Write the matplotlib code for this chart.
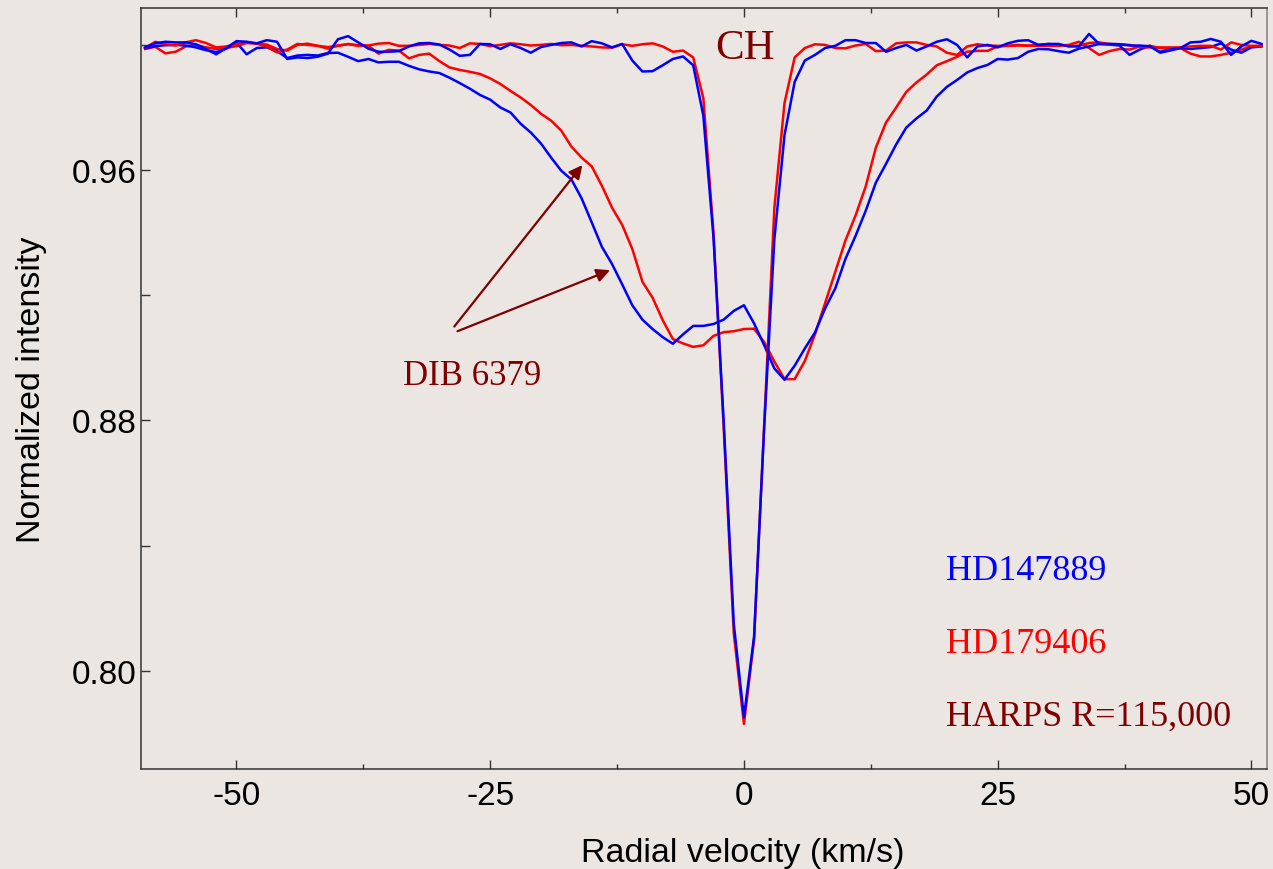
import numpy as np
import matplotlib
matplotlib.use('Agg')
import matplotlib.pyplot as plt
from matplotlib.ticker import MultipleLocator, FormatStrFormatter

plt.rcParams['font.family'] = ['Liberation Sans', 'DejaVu Sans']
plt.rcParams['axes.unicode_minus'] = False

# Radial velocity grid (km/s), 1 km/s sampling
velocity = np.arange(-59, 52, 1)

# HD147889 - DIB 6379 (broad) and CH (narrow)
hd147889_dib = [
    0.9989, 0.9996, 0.9999, 1.0000, 0.9998, 0.9992, 0.9983, 0.9977, 0.9988, 1.0008,
    0.9970, 0.9990, 0.9992, 0.9980, 0.9958, 0.9966, 0.9968, 0.9966, 0.9974, 0.9975,
    0.9962, 0.9948, 0.9955, 0.9944, 0.9946, 0.9946, 0.9933, 0.9922, 0.9915, 0.9910,
    0.9895, 0.9878, 0.9860, 0.9840, 0.9825, 0.9800, 0.9784, 0.9748, 0.9720, 0.9685,
    0.9640, 0.9598, 0.9570, 0.9510, 0.9433, 0.9355, 0.9300, 0.9235, 0.9168, 0.9122,
    0.9092, 0.9066, 0.9045, 0.9075, 0.9102, 0.9102, 0.9108, 0.9122, 0.9150, 0.9168,
    0.9110, 0.9040, 0.8966, 0.8930, 0.8975, 0.9030, 0.9081, 0.9158, 0.9222, 0.9316,
    0.9390, 0.9470, 0.9560, 0.9620, 0.9682, 0.9736, 0.9765, 0.9790, 0.9835, 0.9866,
    0.9888, 0.9912, 0.9926, 0.9936, 0.9955, 0.9953, 0.9958, 0.9978, 0.9987, 0.9986,
    0.9980, 0.9975, 0.9988, 0.9995, 1.0003, 1.0001, 0.9998, 0.9968, 0.9985, 0.9997,
    0.9975, 0.9982, 0.9990, 0.9987, 0.9990, 0.9993, 1.0005, 0.9985, 0.9975, 0.9992,
    0.9995,
]
hd147889_ch = [
    0.9992, 1.0005, 1.0010, 1.0008, 1.0008, 1.0002, 0.9987, 0.9970, 0.9990, 1.0012,
    1.0010, 1.0005, 1.0015, 1.0010, 0.9955, 0.9960, 0.9958, 0.9962, 0.9972, 1.0018,
    1.0028, 1.0008, 0.9988, 0.9978, 0.9978, 0.9980, 0.9995, 1.0005, 1.0006, 1.0001,
    0.9985, 0.9965, 0.9968, 1.0003, 1.0002, 0.9987, 1.0002, 0.9990, 0.9975, 0.9993,
    1.0000, 1.0006, 1.0008, 0.9995, 1.0012, 1.0005, 0.9992, 1.0003, 0.9950, 0.9915,
    0.9916, 0.9935, 0.9955, 0.9963, 0.9935, 0.9774, 0.9385, 0.8800, 0.8150, 0.7851,
    0.8110, 0.8780, 0.9380, 0.9712, 0.9882, 0.9950, 0.9968, 0.9990, 0.9997, 1.0015,
    1.0015, 1.0006, 1.0006, 0.9978, 0.9990, 1.0000, 0.9982, 0.9995, 1.0010, 1.0018,
    1.0000, 0.9960, 0.9995, 1.0000, 0.9992, 1.0005, 1.0013, 1.0015, 1.0000, 1.0003,
    1.0003, 0.9995, 0.9995, 1.0035, 1.0003, 1.0003, 1.0002, 0.9998, 0.9998, 0.9995,
    0.9978, 0.9985, 0.9990, 1.0008, 1.0010, 1.0019, 1.0010, 0.9968, 0.9995, 1.0013,
    1.0003,
]

# HD179406 - DIB 6379 (broad) and CH (narrow)
hd179406_dib = [
    0.9987, 0.9994, 0.9973, 0.9978, 0.9995, 1.0000, 0.9992, 0.9987, 0.9990, 0.9996,
    1.0006, 1.0004, 1.0001, 0.9987, 0.9982, 1.0000, 1.0004, 0.9997, 0.9988, 0.9998,
    1.0002, 0.9997, 0.9997, 0.9972, 0.9984, 0.9982, 0.9957, 0.9968, 0.9972, 0.9948,
    0.9928, 0.9920, 0.9914, 0.9907, 0.9893, 0.9875, 0.9853, 0.9832, 0.9808, 0.9780,
    0.9758, 0.9726, 0.9675, 0.9640, 0.9612, 0.9550, 0.9480, 0.9425, 0.9348, 0.9243,
    0.9192, 0.9120, 0.9060, 0.9046, 0.9035, 0.9040, 0.9070, 0.9082, 0.9085, 0.9092,
    0.9093, 0.9050, 0.8988, 0.8932, 0.8932, 0.8990, 0.9075, 0.9175, 0.9275, 0.9375,
    0.9455, 0.9548, 0.9672, 0.9752, 0.9800, 0.9850, 0.9880, 0.9905, 0.9935, 0.9948,
    0.9962, 0.9978, 0.9981, 0.9981, 0.9995, 0.9997, 1.0000, 0.9998, 0.9997, 0.9997,
    0.9997, 1.0000, 1.0010, 0.9990, 0.9968, 0.9980, 0.9987, 0.9985, 0.9995, 0.9997,
    0.9990, 0.9988, 0.9990, 0.9972, 0.9963, 0.9963, 0.9968, 0.9975, 0.9985, 0.9995,
    0.9997,
]
hd179406_ch = [
    0.9990, 1.0010, 1.0002, 0.9998, 1.0008, 1.0015, 1.0006, 0.9992, 0.9995, 1.0002,
    1.0009, 1.0004, 0.9994, 0.9976, 0.9985, 1.0003, 1.0000, 0.9997, 0.9993, 0.9997,
    1.0003, 0.9999, 0.9998, 1.0004, 1.0006, 0.9997, 0.9997, 1.0000, 1.0003, 1.0000,
    0.9998, 0.9990, 1.0005, 1.0003, 0.9996, 1.0000, 1.0005, 1.0002, 0.9998, 1.0000,
    1.0003, 0.9999, 1.0000, 0.9997, 0.9995, 0.9992, 0.9991, 1.0002, 0.9997, 1.0002,
    1.0005, 0.9995, 0.9978, 0.9982, 0.9960, 0.9830, 0.9400, 0.8780, 0.8120, 0.7830,
    0.8100, 0.8790, 0.9480, 0.9815, 0.9960, 0.9990, 1.0002, 1.0000, 0.9990, 0.9989,
    0.9998, 1.0003, 0.9980, 0.9982, 1.0005, 1.0008, 1.0008, 1.0000, 0.9995, 0.9975,
    0.9968, 0.9995, 1.0002, 0.9998, 0.9997, 0.9997, 0.9998, 0.9997, 1.0000, 1.0003,
    1.0000, 0.9997, 0.9997, 1.0006, 1.0008, 1.0003, 1.0002, 1.0000, 0.9993, 0.9992,
    0.9992, 0.9992, 0.9992, 0.9995, 0.9997, 0.9997, 0.9985, 1.0008, 1.0000, 0.9997,
    0.9997,
]

bg = '#ebe6e2'
maroon = '#7f0000'

fig = plt.figure(figsize=(12.73, 8.70), dpi=100, facecolor=bg)
ax = fig.add_axes([0.1108, 0.1149, 0.8842, 0.8748], facecolor=bg)

ax.plot(velocity, hd179406_dib, color='#ff0000', lw=1.8)
ax.plot(velocity, hd147889_dib, color='#0000ff', lw=1.8)
ax.plot(velocity, hd179406_ch, color='#ff0000', lw=1.8)
ax.plot(velocity, hd147889_ch, color='#0000ff', lw=1.8)

ax.set_xlim(-59.4, 51.5)
ax.set_ylim(0.7686, 1.0118)

# ticks
ax.xaxis.set_major_locator(MultipleLocator(25))
ax.xaxis.set_minor_locator(MultipleLocator(12.5))
ax.yaxis.set_major_locator(MultipleLocator(0.08))
ax.yaxis.set_minor_locator(MultipleLocator(0.04))
ax.xaxis.set_major_formatter(FormatStrFormatter('%d'))
ax.yaxis.set_major_formatter(FormatStrFormatter('%.2f'))
ax.tick_params(axis='x', which='both', direction='in', top=True, bottom=True,
               labelsize=24, pad=8, color='#333333')
ax.tick_params(axis='x', which='major', length=6.5, width=1)
ax.tick_params(axis='x', which='minor', length=3.6, width=1)
ax.tick_params(axis='y', which='both', direction='in', left=True, right=False,
               labelsize=24, pad=3, length=6.5, width=1, color='#333333')

for side in ['left', 'bottom', 'top']:
    ax.spines[side].set_color('#333333')
    ax.spines[side].set_linewidth(1.1)
ax.spines['right'].set_color('#808080')
ax.spines['right'].set_linewidth(1.1)

ax.set_xlabel('Radial velocity (km/s)', fontsize=24.5)
ax.set_ylabel('Normalized intensity', fontsize=24.5)
ax.xaxis.set_label_coords(0.535, -0.0895)
ax.yaxis.set_label_coords(-0.0835, 0.5)

serif = 'Liberation Serif'
ax.text(0.1, 0.9957, 'CH', fontsize=31, family=serif, color=maroon, ha='center', va='baseline')
ax.text(-33.56, 0.8916, 'DIB 6379', fontsize=25, family=serif, color=maroon, ha='left', va='baseline')
ax.text(19.9, 0.8293, 'HD147889', fontsize=26, family=serif, color='#0000ff', ha='left', va='baseline')
ax.text(19.9, 0.8059, 'HD179406', fontsize=26, family=serif, color='#ff0000', ha='left', va='baseline')
ax.text(19.9, 0.7826, 'HARPS R=115,000', fontsize=26, family=serif, color=maroon, ha='left', va='baseline')

# arrows pointing at the DIB wings
arrow = dict(arrowstyle='-|>', mutation_scale=20, lw=1.6, color=maroon, shrinkA=0, shrinkB=0)
ax.annotate('', xy=(-15.92, 0.9616), xytext=(-28.54, 0.9100), arrowprops=arrow)
ax.annotate('', xy=(-13.19, 0.9280), xytext=(-28.22, 0.9085), arrowprops=arrow)

plt.savefig('out.png', dpi=100, facecolor=bg)
